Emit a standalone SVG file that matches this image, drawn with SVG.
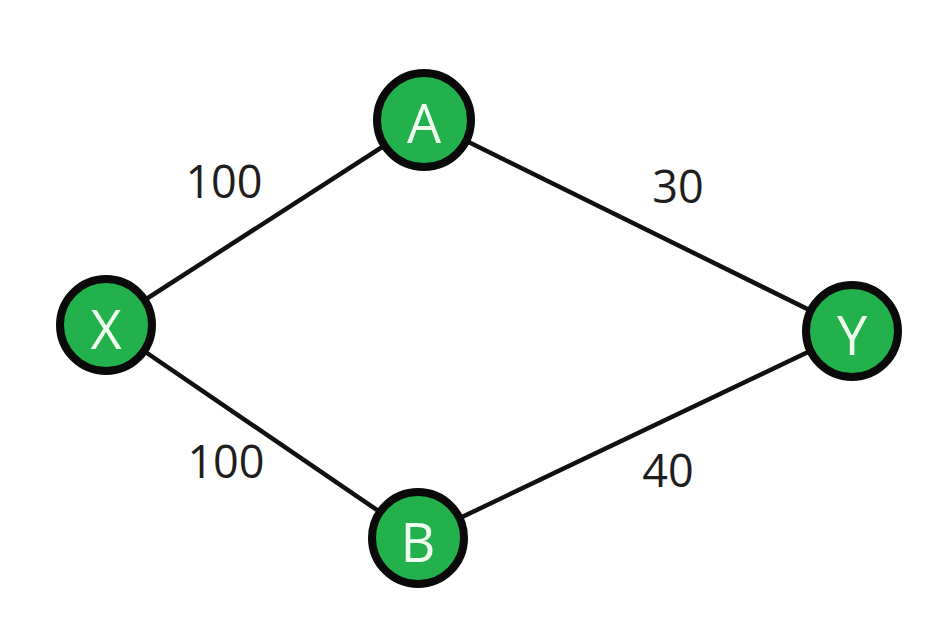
<svg xmlns="http://www.w3.org/2000/svg" width="934" height="642" viewBox="0 0 934 642">
<style>
.edge{stroke:#111;stroke-width:4.5;fill:none;stroke-linecap:round}
.node circle{fill:#22b14c;stroke:#0a0a0a;stroke-width:8}
.node text{fill:#f0fff0;font-family:"Open Sans","Liberation Sans",sans-serif;font-size:54px;text-anchor:middle}
.lbl{fill:#1e1e1e;font-family:"Open Sans","Liberation Sans",sans-serif;font-size:45px;text-anchor:middle}
</style>
<rect width="934" height="642" fill="#ffffff"/>
<g id="connectors">
<line class="edge" x1="106" y1="325" x2="424" y2="120"/>
<line class="edge" x1="424" y1="120" x2="852" y2="331"/>
<line class="edge" x1="106" y1="325" x2="418" y2="538"/>
<line class="edge" x1="418" y1="538" x2="852" y2="331"/>
<text class="lbl" x="224" y="198">100</text>
<text class="lbl" x="678" y="203">30</text>
<text class="lbl" x="226" y="478">100</text>
<text class="lbl" x="668" y="487">40</text>
</g>
<g id="node-A" class="node"><circle cx="424" cy="120" r="47"/><text x="424" y="143">A</text></g>
<g id="node-X" class="node"><circle cx="106" cy="325" r="46"/><text x="106" y="349">X</text></g>
<g id="node-Y" class="node"><circle cx="852" cy="331" r="46"/><text x="852" y="355">Y</text></g>
<g id="node-B" class="node"><circle cx="418" cy="538" r="46"/><text x="418" y="562">B</text></g>
</svg>
